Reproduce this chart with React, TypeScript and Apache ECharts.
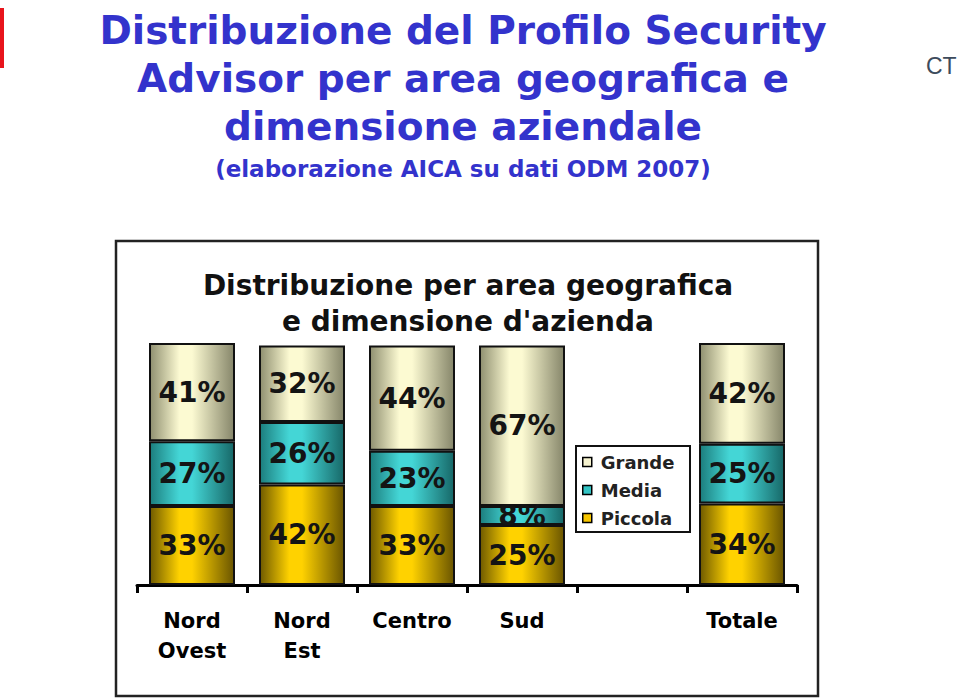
import React, { useEffect, useRef } from "react";
import * as echarts from "echarts";

const categories = ["Nord\nOvest", "Nord\nEst", "Centro", "Sud", "", "Totale"];
const piccola = [33, 42, 33, 25, null, 34];
const media = [27, 26, 23, 8, null, 25];
const grande = [41, 32, 44, 67, null, 42];
const slideTitle = [
  "Distribuzione del Profilo Security",
  "Advisor per area geografica e",
  "dimensione aziendale",
];
const slideSubtitle = "(elaborazione AICA su dati ODM 2007)";
const chartTitle = ["Distribuzione per area geografica", "e dimensione d'azienda"];
const logoText = "CT";

const FONT = "'DejaVu Sans', Verdana, sans-serif";

function grad(dark: string, bright: string, dark2: string) {
  return new echarts.graphic.LinearGradient(0, 0, 1, 0, [
    { offset: 0, color: dark },
    { offset: 0.35, color: bright },
    { offset: 0.5, color: bright },
    { offset: 1, color: dark2 },
  ]);
}

export default function App() {
  const ref = useRef<HTMLDivElement>(null);
  useEffect(() => {
    if (!ref.current) return;
    const chart = echarts.init(ref.current, undefined, { renderer: "svg" });

    const labelCfg = {
      show: true,
      position: "inside",
      formatter: (p: any) => (p.value == null ? "" : p.value + "%"),
      fontFamily: FONT,
      fontWeight: "bold",
      fontSize: 28,
      color: "#141414",
    };
    const mk = (name: string, data: any[], color: any) => ({
      name,
      type: "bar",
      stack: "tot",
      data,
      barWidth: 86,
      itemStyle: { color, borderColor: "#111", borderWidth: 2 },
      label: labelCfg,
      emphasis: { disabled: true },
    });

    const titleTexts = slideTitle.map((t, i) => ({
      type: "text",
      x: 463,
      y: [30, 78, 126][i],
      style: {
        text: t,
        fontFamily: FONT,
        fontWeight: "bold",
        fontSize: 39,
        fill: "#3333cc",
        align: "center",
        verticalAlign: "middle",
      },
    }));

    const innerTitle = chartTitle.map((t, i) => ({
      type: "text",
      x: 468,
      y: [285, 321][i],
      style: {
        text: t,
        fontFamily: FONT,
        fontWeight: "bold",
        fontSize: 28,
        fill: "#111",
        align: "center",
        verticalAlign: "middle",
      },
    }));

    chart.setOption({
      animation: false,
      backgroundColor: "#ffffff",
      grid: { left: 137, right: 163, top: 344, bottom: 115 },
      xAxis: {
        type: "category",
        data: categories,
        axisLine: { show: true, lineStyle: { color: "#000", width: 3 } },
        axisTick: { show: true, interval: 0, length: 8, lineStyle: { color: "#000", width: 3 } },
        axisLabel: {
          interval: 0,
          fontFamily: FONT,
          fontWeight: "bold",
          fontSize: 21,
          lineHeight: 30,
          color: "#000",
          margin: 21,
        },
      },
      yAxis: { type: "value", min: 0, max: 100.6, show: false },
      legend: {
        orient: "vertical",
        left: 582,
        top: 453,
        padding: 0,
        itemWidth: 9,
        itemHeight: 9,
        itemGap: 10,
        icon: "rect",
        textStyle: {
          fontFamily: FONT,
          fontWeight: "bold",
          fontSize: 18,
          lineHeight: 17,
          color: "#222",
          padding: [0, 0, 0, 4],
        },
        data: [
          { name: "Grande", itemStyle: { color: "#f6f3cf", borderColor: "#000", borderWidth: 1.5 } },
          { name: "Media", itemStyle: { color: "#33c4c4", borderColor: "#000", borderWidth: 1.5 } },
          { name: "Piccola", itemStyle: { color: "#f7c600", borderColor: "#000", borderWidth: 1.5 } },
        ],
        selectedMode: false,
      },
      graphic: [
        { type: "rect", shape: { x: 0, y: 8, width: 4, height: 60 }, style: { fill: "#e8141c" } },
        {
          type: "text",
          x: 926,
          y: 66,
          style: {
            text: logoText,
            fontFamily: "'Liberation Sans', Arial, sans-serif",
            fontSize: 23,
            fill: "#3d4b5c",
            align: "left",
            verticalAlign: "middle",
          },
        },
        ...titleTexts,
        {
          type: "text",
          x: 463,
          y: 169,
          style: {
            text: slideSubtitle,
            fontFamily: FONT,
            fontWeight: "bold",
            fontSize: 23,
            fill: "#3333cc",
            align: "center",
            verticalAlign: "middle",
          },
        },
        {
          type: "rect",
          shape: { x: 116, y: 241, width: 702, height: 455 },
          style: { fill: "none", stroke: "#222", lineWidth: 2.5 },
        },
        ...innerTitle,
        {
          type: "rect",
          z: 3,
          shape: { x: 576, y: 446, width: 114, height: 86 },
          style: { fill: "#fff", stroke: "#111", lineWidth: 2 },
        },
      ],
      series: [
        mk("Piccola", piccola, grad("#6f5a00", "#ffd200", "#6a5500")),
        mk("Media", media, grad("#1c7d7d", "#44d6d6", "#176868")),
        mk("Grande", grande, grad("#8f8f70", "#fcfad2", "#86866a")),
      ],
    });
    return () => chart.dispose();
  }, []);
  return (
    <div
      ref={ref}
      style={{ position: "absolute", left: 0, top: 0, width: 960, height: 700 }}
    />
  );
}
